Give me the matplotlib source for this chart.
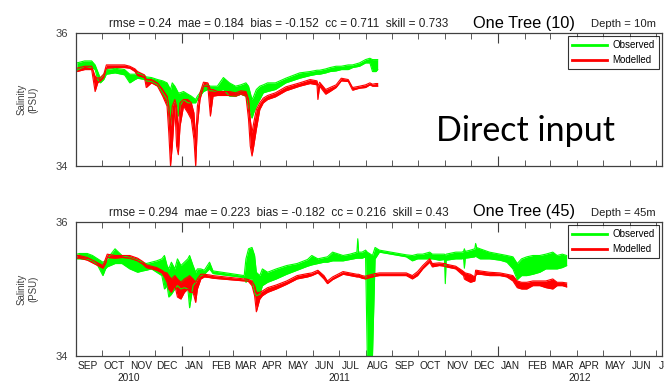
import numpy as np
import pandas as pd
import matplotlib
matplotlib.use("Agg")
import matplotlib.pyplot as plt
import matplotlib.dates as mdates

# ---- datos: One Tree, 10 m ----
fechas_10 = ["2010-09-02", "2010-09-11", "2010-09-19", "2010-09-23", "2010-09-26", "2010-09-29",
             "2010-10-03", "2010-10-06", "2010-10-16", "2010-10-27", "2010-11-02", "2010-11-08",
             "2010-11-11", "2010-11-19", "2010-11-21", "2010-11-27", "2010-12-04", "2010-12-10",
             "2010-12-15", "2010-12-17", "2010-12-19", "2010-12-21", "2010-12-24", "2010-12-26",
             "2010-12-28", "2010-12-30", "2011-01-03", "2011-01-08", "2011-01-12", "2011-01-15",
             "2011-01-17", "2011-01-19", "2011-01-22", "2011-01-26", "2011-01-31", "2011-02-03",
             "2011-02-06", "2011-02-11", "2011-02-18", "2011-02-25", "2011-03-04", "2011-03-10",
             "2011-03-16", "2011-03-19", "2011-03-21", "2011-03-23", "2011-03-25", "2011-03-28",
             "2011-04-01", "2011-04-05", "2011-04-10", "2011-04-19", "2011-05-01", "2011-05-17",
             "2011-05-29", "2011-06-06", "2011-06-07", "2011-06-09", "2011-06-16", "2011-06-21",
             "2011-06-28", "2011-07-04", "2011-07-12", "2011-07-17", "2011-07-25", "2011-08-01",
             "2011-08-06", "2011-08-09", "2011-08-13", "2011-08-15"]
obs_lo_10 = [35.44, 35.50, 35.48, 35.45, 35.30, 35.25, 35.30, 35.38, 35.40, 35.37, 35.25, 35.30,
             35.32, 35.30, 35.28, 35.27, 35.22, 35.10, 35.00, 34.85, 34.62, 34.90, 35.00, 34.90,
             34.75, 34.90, 35.00, 34.95, 34.95, 34.95, 34.95, 35.00, 35.05, 35.12, 35.15, 35.13,
             35.13, 35.12, 35.15, 35.05, 35.05, 35.08, 35.05, 34.90, 34.78, 34.72, 34.80, 34.90,
             35.00, 35.10, 35.12, 35.15, 35.25, 35.32, 35.36, 35.38, 35.38, 35.38, 35.40, 35.42,
             35.43, 35.45, 35.45, 35.48, 35.50, 35.55, 35.55, 35.42, 35.42, 35.45]
obs_hi_10 = [35.55, 35.58, 35.58, 35.52, 35.42, 35.32, 35.38, 35.45, 35.47, 35.45, 35.38, 35.38,
             35.40, 35.36, 35.34, 35.33, 35.30, 35.28, 35.25, 35.20, 35.15, 35.25, 35.20, 35.15,
             35.10, 35.10, 35.12, 35.08, 35.05, 35.02, 35.00, 35.05, 35.10, 35.20, 35.22, 35.20,
             35.20, 35.20, 35.33, 35.25, 35.20, 35.22, 35.25, 35.20, 35.10, 35.00, 35.05, 35.15,
             35.20, 35.22, 35.25, 35.25, 35.32, 35.40, 35.42, 35.44, 35.44, 35.44, 35.46, 35.48,
             35.50, 35.50, 35.52, 35.52, 35.55, 35.60, 35.62, 35.60, 35.60, 35.60]
mod_lo_10 = [35.42, 35.45, 35.45, 35.12, 35.25, 35.28, 35.33, 35.47, 35.48, 35.48, 35.47, 35.42,
             35.36, 35.33, 35.18, 35.25, 35.20, 35.05, 34.90, 34.50, 34.00, 34.30, 34.90, 34.30,
             34.17, 34.60, 34.90, 34.80, 34.70, 34.40, 34.00, 34.60, 35.00, 35.20, 35.20, 34.75,
             35.05, 35.06, 35.06, 35.06, 35.05, 35.08, 35.05, 34.70, 34.30, 34.15, 34.30, 34.55,
             34.85, 34.95, 35.00, 35.04, 35.13, 35.20, 35.24, 35.22, 35.00, 35.20, 35.08, 35.12,
             35.18, 35.28, 35.27, 35.14, 35.17, 35.18, 35.22, 35.20, 35.20, 35.20]
mod_hi_10 = [35.47, 35.50, 35.50, 35.35, 35.32, 35.33, 35.38, 35.52, 35.52, 35.52, 35.50, 35.46,
             35.42, 35.37, 35.30, 35.30, 35.25, 35.15, 35.05, 34.90, 34.60, 34.90, 35.00, 34.90,
             34.50, 34.95, 35.00, 35.00, 34.95, 34.80, 34.40, 34.90, 35.10, 35.26, 35.25, 35.15,
             35.15, 35.12, 35.12, 35.12, 35.10, 35.13, 35.12, 35.00, 34.70, 34.50, 34.65, 34.85,
             34.95, 35.02, 35.06, 35.10, 35.19, 35.25, 35.30, 35.28, 35.20, 35.26, 35.15, 35.18,
             35.22, 35.32, 35.30, 35.18, 35.20, 35.22, 35.25, 35.23, 35.24, 35.24]

# ---- datos: One Tree, 45 m ----
fechas_45 = ["2010-09-02", "2010-09-05", "2010-09-14", "2010-09-20", "2010-09-26", "2010-10-02",
             "2010-10-05", "2010-10-07", "2010-10-16", "2010-10-24", "2010-11-02", "2010-11-11",
             "2010-11-17", "2010-11-21", "2010-11-27", "2010-12-03", "2010-12-09", "2010-12-12",
             "2010-12-15", "2010-12-17", "2010-12-20", "2010-12-24", "2010-12-27", "2010-12-31",
             "2011-01-04", "2011-01-08", "2011-01-10", "2011-01-14", "2011-01-17", "2011-01-19",
             "2011-01-23", "2011-01-27", "2011-02-02", "2011-02-06", "2011-03-14", "2011-03-16",
             "2011-03-19", "2011-03-23", "2011-03-26", "2011-03-28", "2011-04-01", "2011-04-04",
             "2011-04-10", "2011-04-20", "2011-05-02", "2011-05-14", "2011-05-26", "2011-05-31",
             "2011-06-07", "2011-06-14", "2011-06-18", "2011-06-24", "2011-07-06", "2011-07-14",
             "2011-07-22", "2011-07-23", "2011-07-24", "2011-07-28", "2011-08-01", "2011-08-03",
             "2011-08-09", "2011-08-12", "2011-08-17", "2011-09-17", "2011-09-24", "2011-09-30",
             "2011-10-06", "2011-10-14", "2011-10-17", "2011-10-25", "2011-10-31", "2011-11-01",
             "2011-11-02", "2011-11-13", "2011-11-20", "2011-11-22", "2011-11-23", "2011-11-24",
             "2011-11-30", "2011-12-05", "2011-12-06", "2011-12-07", "2011-12-11", "2011-12-22",
             "2012-01-03", "2012-01-11", "2012-01-18", "2012-01-23", "2012-01-28", "2012-02-03",
             "2012-02-10", "2012-02-18", "2012-02-25", "2012-03-04", "2012-03-09", "2012-03-15",
             "2012-03-20"]
obs_lo_45 = [35.45, 35.45, 35.44, 35.42, 35.35, 35.20, 35.30, 35.33, 35.38, 35.38, 35.30, 35.25,
             35.27, 35.28, 35.30, 35.25, 35.20, 35.00, 35.05, 34.88, 34.92, 35.00, 35.05, 35.00,
             35.02, 35.00, 34.72, 35.05, 35.10, 35.15, 35.20, 35.22, 35.30, 35.23, 35.17, 35.10,
             35.15, 35.15, 34.95, 34.90, 34.92, 35.05, 35.10, 35.15, 35.22, 35.28, 35.34, 35.36,
             35.38, 35.40, 35.40, 35.42, 35.42, 35.44, 35.46, 35.46, 35.46, 35.46, 35.48, 34.00,
             34.00, 35.45, 35.55, 35.48, 35.42, 35.45, 35.45, 35.45, 35.45, 35.43, 35.44, 35.08,
             35.43, 35.45, 35.45, 35.46, 35.31, 35.46, 35.47, 35.48, 35.50, 35.48, 35.45, 35.45,
             35.43, 35.40, 35.30, 35.14, 35.20, 35.20, 35.22, 35.25, 35.30, 35.30, 35.30, 35.32,
             35.35]
obs_hi_45 = [35.52, 35.53, 35.53, 35.50, 35.45, 35.40, 35.42, 35.45, 35.60, 35.50, 35.47, 35.43,
             35.40, 35.38, 35.40, 35.42, 35.45, 35.50, 35.35, 35.30, 35.40, 35.30, 35.45, 35.35,
             35.40, 35.45, 35.50, 35.35, 35.25, 35.30, 35.30, 35.28, 35.40, 35.27, 35.20, 35.45,
             35.60, 35.62, 35.50, 35.25, 35.20, 35.30, 35.25, 35.30, 35.35, 35.38, 35.44, 35.50,
             35.45, 35.47, 35.48, 35.55, 35.50, 35.52, 35.55, 35.75, 35.55, 35.55, 35.58, 35.55,
             35.50, 35.62, 35.58, 35.51, 35.50, 35.52, 35.52, 35.55, 35.52, 35.52, 35.52, 35.50,
             35.52, 35.55, 35.55, 35.56, 35.60, 35.56, 35.58, 35.60, 35.68, 35.62, 35.60, 35.55,
             35.52, 35.50, 35.48, 35.38, 35.45, 35.48, 35.50, 35.50, 35.52, 35.55, 35.50, 35.52,
             35.50]
mod_lo_45 = [35.46, 35.46, 35.43, 35.39, 35.35, 35.31, 35.38, 35.47, 35.46, 35.47, 35.46, 35.42,
             35.37, 35.32, 35.30, 35.28, 35.24, 35.18, 35.10, 35.00, 34.95, 35.05, 34.88, 34.85,
             34.95, 35.00, 34.95, 34.95, 34.80, 35.00, 35.15, 35.18, 35.17, 35.16, 35.12, 35.12,
             35.11, 35.05, 34.90, 34.66, 34.85, 34.90, 34.95, 35.00, 35.07, 35.15, 35.18, 35.20,
             35.24, 35.15, 35.08, 35.14, 35.22, 35.20, 35.18, 35.18, 35.18, 35.16, 35.15, 35.16,
             35.18, 35.19, 35.20, 35.20, 35.15, 35.20, 35.30, 35.40, 35.33, 35.35, 35.34, 35.34,
             35.33, 35.30, 35.22, 35.20, 35.15, 35.14, 35.10, 35.12, 35.20, 35.22, 35.22, 35.20,
             35.20, 35.18, 35.12, 35.02, 35.00, 35.00, 35.05, 35.05, 35.02, 35.00, 35.05, 35.05,
             35.03]
mod_hi_45 = [35.50, 35.50, 35.47, 35.43, 35.39, 35.35, 35.45, 35.52, 35.50, 35.50, 35.50, 35.46,
             35.41, 35.36, 35.34, 35.32, 35.28, 35.25, 35.24, 35.20, 35.15, 35.20, 35.15, 35.10,
             35.15, 35.18, 35.20, 35.15, 35.10, 35.15, 35.22, 35.22, 35.21, 35.20, 35.15, 35.15,
             35.14, 35.12, 35.05, 34.95, 34.95, 34.97, 35.02, 35.06, 35.12, 35.20, 35.23, 35.24,
             35.28, 35.20, 35.12, 35.18, 35.26, 35.24, 35.22, 35.22, 35.22, 35.20, 35.19, 35.20,
             35.22, 35.23, 35.24, 35.24, 35.20, 35.26, 35.35, 35.45, 35.38, 35.39, 35.38, 35.38,
             35.37, 35.34, 35.28, 35.26, 35.25, 35.24, 35.22, 35.18, 35.28, 35.28, 35.27, 35.25,
             35.24, 35.22, 35.20, 35.12, 35.10, 35.10, 35.12, 35.12, 35.12, 35.15, 35.10, 35.10,
             35.09]

paneles = [
    (fechas_10, obs_lo_10, obs_hi_10, mod_lo_10, mod_hi_10,
     "rmse = 0.24  mae = 0.184  bias = -0.152  cc = 0.711  skill = 0.733",
     "One Tree (10)", "Depth = 10m"),
    (fechas_45, obs_lo_45, obs_hi_45, mod_lo_45, mod_hi_45,
     "rmse = 0.294  mae = 0.223  bias = -0.182  cc = 0.216  skill = 0.43",
     "One Tree (45)", "Depth = 45m"),
]

meses = ["JAN", "FEB", "MAR", "APR", "MAY", "JUN", "JUL", "AUG", "SEP", "OCT", "NOV", "DEC"]
x_ini = pd.Timestamp("2010-09-01")
x_fin = pd.Timestamp("2012-07-08")

plt.rcParams['font.family'] = ['Liberation Sans', 'DejaVu Sans']
fig = plt.figure(figsize=(6.64, 3.84), dpi=100)

posiciones = [[0.1145, 0.5677, 0.8825, 0.3464], [0.1145, 0.0729, 0.8825, 0.349]]
gris = "#404040"

for pos, (fechas, olo, ohi, mlo, mhi, stats, nombre, prof) in zip(posiciones, paneles):
    ax = fig.add_axes(pos)
    d = pd.to_datetime(fechas)
    # observado (verde) y modelado (rojo)
    ax.fill_between(d, olo, ohi, color="#00ff00", lw=0)
    ax.plot(d, olo, color="#00ff00", lw=0.8)
    l1, = ax.plot(d, ohi, color="#00ff00", lw=0.8, label="Observed")
    ax.fill_between(d, mlo, mhi, color="#ff0000", lw=0)
    ax.plot(d, mlo, color="#ff0000", lw=0.8)
    l2, = ax.plot(d, mhi, color="#ff0000", lw=0.8, label="Modelled")

    ax.set_xlim(x_ini, x_fin)
    ax.set_ylim(34, 36)
    ax.set_yticks([34, 36])
    ax.set_yticklabels(["34", "36"], fontsize=8, color=gris)
    ax.tick_params(axis="y", length=0, pad=6)
    ax.set_ylabel("Salinity\n(PSU)", fontsize=7, color=gris, labelpad=12)

    ax.xaxis.set_major_locator(mdates.YearLocator())
    ax.xaxis.set_minor_locator(mdates.MonthLocator())
    ax.tick_params(axis="x", which="major", direction="in", length=7, top=True, color=gris, labelbottom=False)
    ax.tick_params(axis="x", which="minor", direction="in", length=4, top=True, color=gris, labelbottom=False)
    for s in ax.spines.values():
        s.set_color(gris)
        s.set_linewidth(0.9)

    leg = ax.legend(handles=[l1, l2], loc="upper right", fontsize=7, frameon=True, fancybox=False,
                    edgecolor="black", handlelength=3.6, handletextpad=0.6, borderaxespad=0.35,
                    alignment="right")
    leg.get_frame().set_linewidth(0.8)
    for ln in leg.get_lines():
        ln.set_linewidth(2)

    ax.text(0.346, 1.07, stats, transform=ax.transAxes, ha="center", va="center", fontsize=8.5, color="#202020")
    ax.text(0.765, 1.075, nombre, transform=ax.transAxes, ha="center", va="center", fontsize=11.8)
    ax.text(0.934, 1.07, prof, transform=ax.transAxes, ha="center", va="center", fontsize=8.1, color="#202020")

    ultimo = ax

# etiquetas de meses y años bajo el panel inferior
mes = x_ini
while mes <= x_fin:
    centro = mes + pd.Timedelta(days=14)
    ultimo.text(centro, -0.04, meses[mes.month - 1], transform=ultimo.get_xaxis_transform(),
                ha="center", va="top", fontsize=7.3, color="#202020", clip_on=False)
    mes = mes + pd.DateOffset(months=1)

for anio in [2010, 2011, 2012]:
    a = max(pd.Timestamp(f"{anio}-01-01"), x_ini)
    b = min(pd.Timestamp(f"{anio}-12-31"), x_fin)
    ultimo.text(a + (b - a) / 2, -0.13, str(anio), transform=ultimo.get_xaxis_transform(),
                ha="center", va="top", fontsize=7.3, color="#202020")

fig.text(0.791, 0.66, "Direct input", fontsize=24.5, family="Lato", ha="center", va="center")

fig.savefig("out.png", dpi=100)
